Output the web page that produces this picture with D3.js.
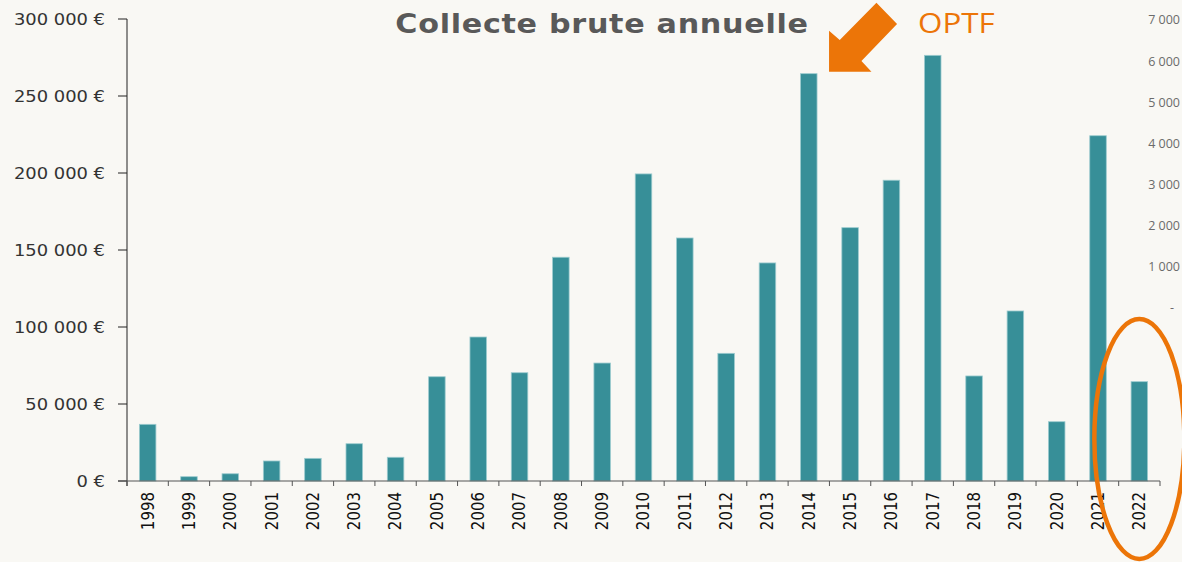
<!DOCTYPE html>
<html>
<head>
<meta charset="utf-8">
<script src="https://d3js.org/d3.v7.min.js"></script>
<style>
  body { margin: 0; background: #f9f8f4; }
  svg { display: block; }
</style>
</head>
<body>
<svg id="chart" width="1182" height="562"></svg>
<script>
// data
const years = ["1998","1999","2000","2001","2002","2003","2004","2005","2006","2007","2008","2009","2010",
               "2011","2012","2013","2014","2015","2016","2017","2018","2019","2020","2021","2022"]
const collecte = [36800, 2800, 4700, 13000, 14700, 24200, 15400, 67700, 93500, 70300, 145300, 76600, 199400,
                  157800, 82900, 141600, 264500, 164500, 195300, 276400, 68200, 110400, 38500, 224200, 64500]
const leftTicks = [0, 50000, 100000, 150000, 200000, 250000, 300000]
const rightTicks = [0, 1000, 2000, 3000, 4000, 5000, 6000, 7000]

const W = 1182, H = 562
const plotLeft = 127, plotRight = 1160, plotTop = 19, plotBottom = 481
const barColor = "#378f98"
const orange = "#ec7508"
const stretch = 1.12   // the original picture is slightly wider than tall

const svg = d3.select("#chart")
svg.append("rect").attr("width", W).attr("height", H).attr("fill", "#f9f8f4")

const x = d3.scaleBand()
  .domain(years)
  .range([plotLeft, plotRight])
  .paddingInner(0.6)
  .paddingOuter(0.3)
const step = x.step()

const y = d3.scaleLinear().domain([0, 300000]).range([plotBottom, plotTop])
const y2 = d3.scaleLinear().domain([0, 7000]).range([308, 20])

const fmt = v => v === 0 ? "0 €" : d3.format(",")(v).replace(/,/g, " ") + " €"

// bars
svg.selectAll(".bar")
  .data(years)
  .join("rect")
    .attr("class", "bar")
    .attr("x", d => x(d))
    .attr("y", (d, i) => y(collecte[i]))
    .attr("width", x.bandwidth())
    .attr("height", (d, i) => y(0) - y(collecte[i]))
    .attr("fill", barColor)
    .attr("stroke", "#9ccbcf")
    .attr("stroke-width", 0.8)

// left axis
const gy = svg.append("g")
gy.append("line")
  .attr("x1", plotLeft).attr("x2", plotLeft)
  .attr("y1", plotTop).attr("y2", plotBottom + 5)
  .attr("stroke", "#222").attr("stroke-width", 1)
gy.selectAll(".tk")
  .data(leftTicks)
  .join("line")
    .attr("x1", plotLeft - 9).attr("x2", plotLeft)
    .attr("y1", d => y(d)).attr("y2", d => y(d))
    .attr("stroke", "#222")
gy.selectAll(".lbl")
  .data(leftTicks)
  .join("text")
    .attr("transform", d => "translate(105," + y(d) + ") scale(" + stretch + ",1)")
    .attr("dy", "0.35em")
    .attr("text-anchor", "end")
    .attr("font-family", "DejaVu Sans")
    .attr("font-size", 16)
    .attr("fill", "#333")
    .text(fmt)

// bottom axis
const gx = svg.append("g")
gx.append("line")
  .attr("x1", plotLeft - 9).attr("x2", plotRight)
  .attr("y1", plotBottom).attr("y2", plotBottom)
  .attr("stroke", "#555").attr("stroke-width", 1.2)
gx.selectAll(".tk")
  .data(years.concat(["end"]))
  .join("line")
    .attr("x1", (d, i) => plotLeft + i * step)
    .attr("x2", (d, i) => plotLeft + i * step)
    .attr("y1", plotBottom).attr("y2", plotBottom + 5)
    .attr("stroke", "#555")
gx.selectAll(".lbl")
  .data(years)
  .join("text")
    .attr("transform", d => "translate(" + (x(d) + x.bandwidth() / 2) + "," + (plotBottom + 11) + ") scale(" + stretch + ",1) rotate(-90)")
    .attr("dy", "0.35em")
    .attr("text-anchor", "end")
    .attr("font-family", "DejaVu Sans")
    .attr("font-size", 15)
    .attr("fill", "#111")
    .text(d => d)

// right axis (labels only)
svg.append("g").selectAll("text")
  .data(rightTicks)
  .join("text")
    .attr("x", d => d === 0 ? 1174 : 1180)
    .attr("y", d => y2(d))
    .attr("dy", "0.35em")
    .attr("text-anchor", "end")
    .attr("font-family", "Open Sans")
    .attr("font-size", 12.5)
    .attr("fill", "#6b6b6b")
    .text(d => d === 0 ? "-" : d3.format(",")(d).replace(/,/g, " "))

// title
svg.append("text")
  .attr("transform", "translate(602,33) scale(" + stretch + ",1)")
  .attr("text-anchor", "middle")
  .attr("font-family", "DejaVu Sans")
  .attr("font-weight", "bold")
  .attr("font-size", 27)
  .attr("letter-spacing", 0.6)
  .attr("fill", "#595959")
  .text("Collecte brute annuelle")

// OPTF annotation with arrow pointing at 2014
svg.append("text")
  .attr("transform", "translate(918,33) scale(1.12,1)")
  .attr("font-family", "Open Sans")
  .attr("font-size", 28)
  .attr("fill", orange)
  .text("OPTF")

const i2014 = years.indexOf("2014")
const tipX = x("2014") + x.bandwidth() + 12
const tipY = y(collecte[i2014]) - 2
const arrowShape = [[0,0],[0,-41],[10.7,-31.7],[47.4,-69],[68,-47.7],[32.4,-10.7],[42.4,0]]
svg.append("path")
  .attr("d", d3.line()(arrowShape.map(p => [tipX + p[0], tipY + p[1]])) + "Z")
  .attr("fill", orange)

// ellipse around 2022
svg.append("ellipse")
  .attr("cx", x("2022") + x.bandwidth() / 2)
  .attr("cy", 439)
  .attr("rx", 45)
  .attr("ry", 120)
  .attr("fill", "none")
  .attr("stroke", orange)
  .attr("stroke-width", 4.5)
</script>
</body>
</html>
